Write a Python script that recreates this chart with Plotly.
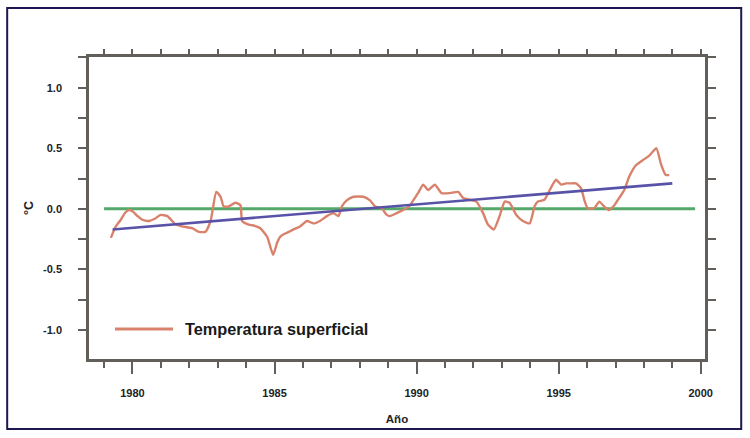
import plotly.graph_objects as go

# Monthly-smoothed surface temperature anomaly (°C)
years = [
    1979.24, 1979.40, 1979.59, 1979.75, 1979.88, 1980.00, 1980.18, 1980.35,
    1980.58, 1980.80, 1980.99, 1981.23, 1981.52, 1981.75, 1982.10, 1982.34,
    1982.57, 1982.75, 1982.95, 1983.10, 1983.21, 1983.39, 1983.62, 1983.80,
    1983.86, 1984.09, 1984.30, 1984.50, 1984.74, 1984.95, 1985.09, 1985.20,
    1985.32, 1985.50, 1985.67, 1985.90, 1986.14, 1986.37, 1986.60, 1986.84,
    1987.07, 1987.25, 1987.37, 1987.54, 1987.78, 1988.13, 1988.36, 1988.54,
    1988.77, 1988.95, 1989.06, 1989.30, 1989.53, 1989.77, 1989.88, 1990.05,
    1990.23, 1990.41, 1990.64, 1990.88, 1991.17, 1991.46, 1991.64, 1991.87,
    1992.10, 1992.34, 1992.51, 1992.72, 1992.92, 1993.10, 1993.27, 1993.51,
    1993.74, 1993.98, 1994.15, 1994.27, 1994.50, 1994.74, 1994.91, 1995.09,
    1995.26, 1995.40, 1995.61, 1995.79, 1995.90, 1996.02, 1996.25, 1996.43,
    1996.60, 1996.76, 1996.96, 1997.13, 1997.31, 1997.48, 1997.72, 1997.95,
    1998.19, 1998.44, 1998.60, 1998.77, 1998.89,
]
temps = [
    -0.24, -0.15, -0.09, -0.03, -0.01, -0.02, -0.06, -0.09,
    -0.10, -0.08, -0.05, -0.06, -0.13, -0.145, -0.16, -0.19,
    -0.19, -0.10, 0.14, 0.10, 0.02, 0.02, 0.05, 0.03,
    -0.10, -0.13, -0.14, -0.16, -0.23, -0.38, -0.28, -0.23,
    -0.21, -0.19, -0.17, -0.145, -0.10, -0.12, -0.10, -0.06,
    -0.035, -0.06, 0.02, 0.07, 0.10, 0.10, 0.07, 0.02,
    0.005, -0.05, -0.06, -0.035, -0.01, 0.03, 0.07, 0.13,
    0.20, 0.155, 0.20, 0.13, 0.13, 0.14, 0.09, 0.075,
    0.06, -0.035, -0.13, -0.17, -0.06, 0.06, 0.05, -0.05,
    -0.10, -0.12, 0.02, 0.06, 0.075, 0.18, 0.24, 0.20,
    0.21, 0.21, 0.21, 0.17, 0.075, 0.005, 0.005, 0.06,
    0.02, -0.01, 0.03, 0.09, 0.155, 0.265, 0.36, 0.40,
    0.44, 0.50, 0.37, 0.28, 0.28,
]

# Linear trend and zero reference
trend_years = [1979.3, 1999.0]
trend_vals = [-0.17, 0.21]
zero_years = [1979.0, 1999.8]
zero_vals = [0.0, 0.0]

x_tickvals = [1980, 1985, 1990, 1995, 2000]
y_tickvals = [-1.0, -0.5, 0.0, 0.5, 1.0]
y_ticktext = ["-1.0", "-0.5", "0.0", "0.5", "1.0"]

series_name = "Temperatura superficial"

X_RANGE = [1978.47, 2000.15]
Y_RANGE = [-1.24, 1.254]

AXIS = "#625e5a"
FONT = "Liberation Sans, Arial, Helvetica, sans-serif"
RED = "#d8826c"
BLUE = "#5853a8"
GREEN = "#55a86a"

fig = go.Figure()

fig.add_trace(go.Scatter(x=zero_years, y=zero_vals, mode="lines",
                         line=dict(color=GREEN, width=3), showlegend=False,
                         hoverinfo="skip"))
fig.add_trace(go.Scatter(x=years, y=temps, mode="lines", name=series_name,
                         line=dict(color=RED, width=2.4, shape="spline", smoothing=0.5),
                         showlegend=False))
fig.add_trace(go.Scatter(x=trend_years, y=trend_vals, mode="lines",
                         line=dict(color=BLUE, width=2.6), showlegend=False,
                         hoverinfo="skip"))
# carrier for the top/right frame axes
fig.add_trace(go.Scatter(x=[None], y=[None], xaxis="x2", yaxis="y2",
                         showlegend=False, hoverinfo="skip"))

tick_font = dict(family=FONT, size=11, color="#222222", weight="bold")

fig.update_layout(
    width=750, height=438,
    margin=dict(l=89, r=45, t=57, b=79),
    paper_bgcolor="white", plot_bgcolor="white",
    xaxis=dict(
        range=X_RANGE, showgrid=False, zeroline=False,
        showline=True, linecolor=AXIS, linewidth=2.5,
        ticks="outside", tickvals=x_tickvals, ticklen=12, tickwidth=2,
        tickcolor=AXIS, tickfont=tick_font, ticklabelstandoff=10,
        minor=dict(dtick=1, tick0=1979, ticks="outside", ticklen=6,
                   tickwidth=2, tickcolor=AXIS),
        title=dict(text="Año", font=dict(family=FONT, size=11.5, color="#222222",
                                         weight="bold"), standoff=17),
    ),
    yaxis=dict(
        range=Y_RANGE, showgrid=False, zeroline=False,
        showline=True, linecolor=AXIS, linewidth=2.5,
        ticks="outside", tickvals=y_tickvals, ticktext=y_ticktext,
        ticklen=8, tickwidth=2, tickcolor=AXIS, tickfont=tick_font,
        ticklabelstandoff=14,
        minor=dict(dtick=0.25, tick0=0, ticks="outside", ticklen=8,
                   tickwidth=2, tickcolor=AXIS),
        title=dict(text="°C", font=dict(family=FONT, size=12.5, color="#222222",
                                        weight="bold"), standoff=7),
    ),
    xaxis2=dict(
        range=X_RANGE, overlaying="x", side="top", anchor="y2",
        showgrid=False, zeroline=False, showline=True, linecolor=AXIS,
        linewidth=2.5, ticks="outside", dtick=1, tick0=1979, ticklen=5,
        tickwidth=2, tickcolor=AXIS, showticklabels=False,
    ),
    yaxis2=dict(
        range=Y_RANGE, overlaying="y", side="right", anchor="x2",
        showgrid=False, zeroline=False, showline=True, linecolor=AXIS,
        linewidth=2.5, ticks="outside", dtick=0.25, tick0=0, ticklen=8,
        tickwidth=2, tickcolor=AXIS, showticklabels=False,
    ),
)

# Outer frame around the whole figure
fig.add_shape(type="rect", xref="paper", yref="paper",
              x0=-0.1328, x1=1.0588, y0=-0.2321, y1=1.1623,
              line=dict(color="#1d1850", width=2), layer="below")

# Legend key: sample line and label inside the plot area
fig.add_shape(type="line", xref="paper", yref="paper",
              x0=0.0422, x1=0.1364, y0=0.0993, y1=0.0993,
              line=dict(color=RED, width=3))
fig.add_annotation(xref="paper", yref="paper", x=0.1526, y=0.0993,
                   xanchor="left", yanchor="middle", showarrow=False,
                   text=series_name,
                   font=dict(family=FONT, size=16.3, color="#1a1a1a", weight="bold"))

fig.write_html("out.html")
